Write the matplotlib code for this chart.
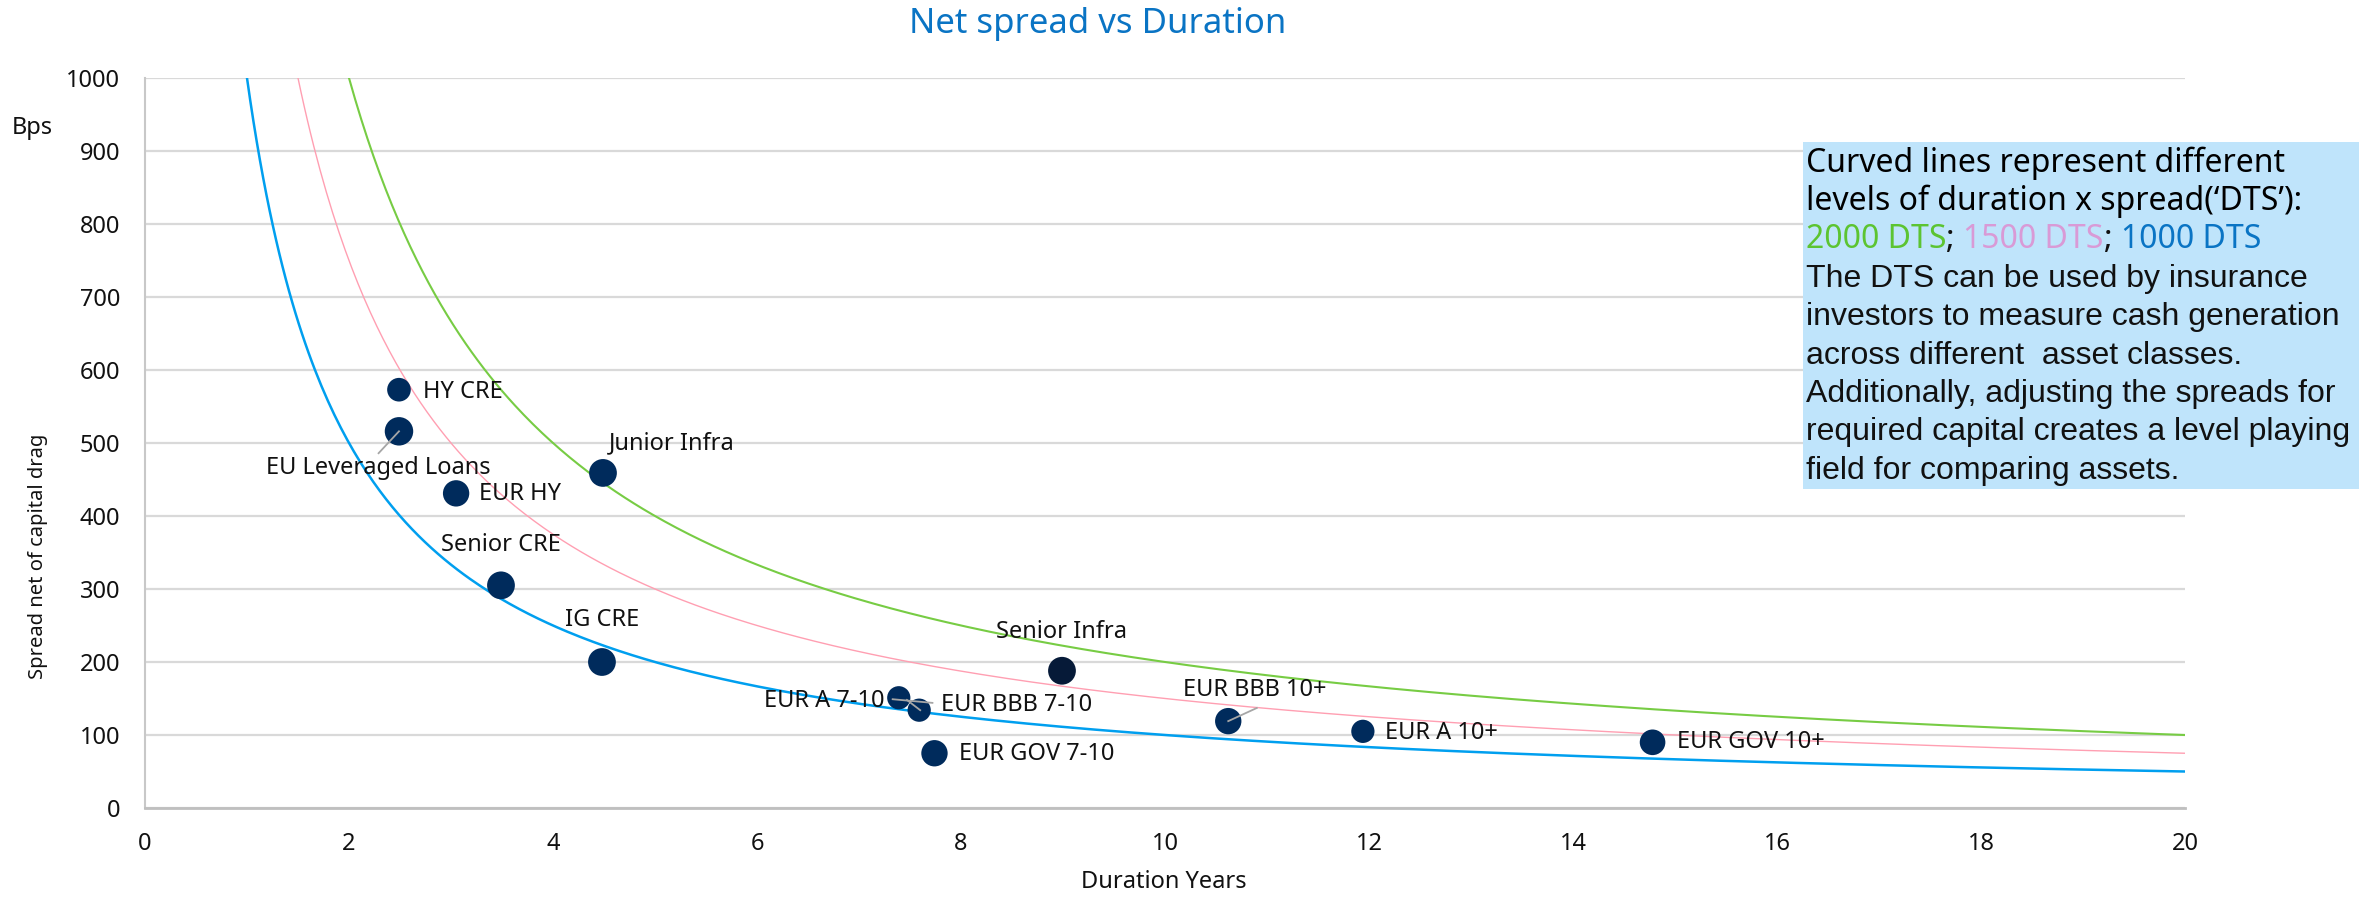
import numpy as np
import matplotlib
matplotlib.use("Agg")
from matplotlib import pyplot as plt
from matplotlib.patches import Rectangle
from matplotlib.text import Annotation

plt.rcParams['font.family'] = ['Noto Sans', 'DejaVu Sans']

# scatter data
names = ["HY CRE", "EU Leveraged Loans", "EUR HY", "Junior Infra", "Senior CRE", "IG CRE",
         "Senior Infra", "EUR A 7-10", "EUR BBB 7-10", "EUR GOV 7-10", "EUR BBB 10+",
         "EUR A 10+", "EUR GOV 10+"]
duration = [2.49, 2.49, 3.05, 4.49, 3.49, 4.48, 8.99, 7.39, 7.59, 7.74, 10.62, 11.94, 14.78]
spread = [573, 516, 431, 459, 305, 200, 188, 151, 134, 75, 119, 105, 90]
msize = [290, 420, 360, 400, 400, 400, 400, 280, 280, 360, 360, 280, 340]
pt_color = ["#002b5c"] * 6 + ["#061a38"] + ["#002b5c"] * 6

# label positions (data coords) and alignment
lab_x = [2.73, 2.29, 3.27, 4.55, 2.90, 4.12, 8.34, 7.25, 7.80, 7.98, 10.18, 12.16, 15.02]
lab_y = [570, 466, 430, 500, 360, 258, 241, 147, 141, 74, 162, 103, 90]
lab_ha = ["left", "center", "left", "left", "left", "left", "left", "right", "left",
          "left", "left", "left", "left"]

# DTS curves
dts_levels = [2000, 1500, 1000]
dts_colors = ["#77cc44", "#ff9fb2", "#009fef"]
dts_widths = [1.5, 1.0, 1.8]

fig = plt.figure(figsize=(23.59, 9.01), dpi=100)
ax = fig.add_axes([145 / 2359, 1 - 808 / 901, (2185 - 145) / 2359, (808 - 78) / 901])

for lvl, c, lw in zip(dts_levels, dts_colors, dts_widths):
    xs = np.linspace(lvl / 1000, 20, 600)
    ax.plot(xs, lvl / xs, color=c, lw=lw, zorder=2)

ax.scatter(duration, spread, s=msize, c=pt_color, zorder=4, linewidths=0)

for n, x, y, ha in zip(names, lab_x, lab_y, lab_ha):
    ax.text(x, y, n, ha=ha, va="center", fontsize=17, color="#111111", zorder=5)

# leader lines (label end -> point)
leaders = [((2.29, 486), (2.49, 516)),
           ((7.33, 149), (7.72, 144)),
           ((7.47, 148), (7.60, 134)),
           ((10.9, 137), (10.62, 119))]
for (x0, y0), (x1, y1) in leaders:
    ax.plot([x0, x1], [y0, y1], color="#a6a6a6", lw=1.3, zorder=5)

ax.set_xlim(0, 20)
ax.set_ylim(0, 1000)
ax.set_xticks(np.arange(0, 21, 2))
ax.set_yticks(np.arange(0, 1001, 100))
ax.grid(axis="y", color="#d9d9d9", lw=1.6)
ax.set_axisbelow(True)
ax.tick_params(length=0, labelsize=17, colors="#111111")
ax.tick_params(axis="y", pad=18)
ax.tick_params(axis="x", pad=17)
for s in ["top", "right"]:
    ax.spines[s].set_visible(False)
ax.spines["left"].set_color("#c8c8c8")
ax.spines["bottom"].set_color("#bfbfbf")
ax.spines["left"].set_linewidth(1.5)
ax.spines["bottom"].set_linewidth(2)

fig.text(1098 / 2359, 1 - 24 / 901, "Net spread vs Duration", ha="center", va="center",
         fontsize=25, color="#0a74c4")
fig.text(12 / 2359, 1 - 128 / 901, "Bps", ha="left", va="center", fontsize=17, color="#111111")
fig.text(38 / 2359, 1 - 556 / 901, "Spread net of capital drag", rotation=90, ha="center",
         va="center", fontsize=14.5, color="#111111")
fig.text(1164 / 2359, 1 - 882 / 901, "Duration Years", ha="center", va="center",
         fontsize=17, color="#111111")

# text box
fig.patches.append(Rectangle((1803 / 2359, 1 - 489 / 901), 1 - 1803 / 2359, (489 - 142) / 901,
                             transform=fig.transFigure, facecolor="#bfe4fb", edgecolor="none",
                             zorder=6))
tx = 1806 / 2359
fs = 23
fig.text(tx, 1 - 172 / 901, "Curved lines represent different", fontsize=fs, va="baseline",
         zorder=7)
fig.text(tx, 1 - 210 / 901, "levels of duration x spread(\u2018DTS\u2019):", fontsize=fs,
         va="baseline", zorder=7)
parts = [("2000 DTS", "#5cc431"), ("; ", "#111111"), ("1500 DTS", "#d99ad6"),
         ("; ", "#111111"), ("1000 DTS", "#0a74c4")]
prev = fig.text(tx, 1 - 248 / 901, parts[0][0], fontsize=fs, va="baseline", color=parts[0][1],
                zorder=7)
for t, c in parts[1:]:
    prev = fig.add_artist(Annotation(t, xy=(1, 0), xycoords=prev, va="bottom", ha="left",
                                     fontsize=fs, color=c, zorder=7))
body = ["The DTS can be used by insurance", "investors to measure cash generation",
        "across different  asset classes.", "Additionally, adjusting the spreads for",
        "required capital creates a level playing", "field for comparing assets."]
for k, line in enumerate(body):
    fig.text(tx, 1 - (287 + 38.3 * k) / 901, line, fontsize=fs, va="baseline",
             family="Liberation Sans", color="#111111", zorder=7)

fig.savefig("out.png", dpi=100)
